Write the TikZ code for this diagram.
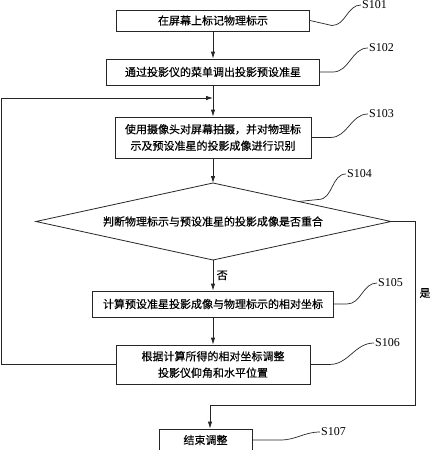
\documentclass[tikz,border=0pt]{standalone}
\usepackage{fontspec}
\setmainfont{Liberation Serif}
\newfontfamily\cjk{Noto Sans CJK SC}[FakeBold=0.5]
\usetikzlibrary{calc}
\usetikzlibrary{arrows.meta}

\begin{document}
\begin{tikzpicture}[x=1pt,y=-1pt,
  box/.style={draw=black!85,line width=0.8pt,inner sep=0pt,align=center,font=\cjk\fontsize{11}{16.5}\selectfont},
  txt/.style={font=\cjk\fontsize{11}{13}\selectfont},
  lbl/.style={inner sep=1pt,anchor=west,font=\fontsize{12}{12}\selectfont},
  line/.style={draw=black!85,line width=0.8pt},
  arr/.style={line,-{Latex[length=7pt,width=4.5pt]}},
  lead/.style={draw=black!85,line width=0.7pt}]
\useasboundingbox (0,0) rectangle (432,450);

% Steps
\node[box,minimum width=193pt,minimum height=21pt] (s101) at (213,20.5) {在屏幕上标记物理标示};
\node[box,minimum width=213pt,minimum height=26pt] (s102) at (213,72) {通过投影仪的菜单调出投影预设准星};
\node[box,minimum width=196pt,minimum height=41pt] (s103) at (213,137.5) {使用摄像头对屏幕拍摄，并对物理标\\示及预设准星的投影成像进行识别};

% Decision
\coordinate (dN) at (213,183);
\coordinate (dE) at (391,221.5);
\coordinate (dS) at (213,260);
\coordinate (dW) at (36,221.5);
\draw[line] (dN) -- (dE) -- (dS) -- (dW) -- cycle;
\node[txt] (s104) at (213,221.5) {判断物理标示与预设准星的投影成像是否重合};

\node[box,minimum width=241pt,minimum height=26pt] (s105) at (213,304) {计算预设准星投影成像与物理标示的相对坐标};
\node[box,minimum width=194pt,minimum height=39pt] (s106) at (213,364.5) {根据计算所得的相对坐标调整\\投影仪仰角和水平位置};
\node[box,minimum width=93pt,minimum height=22pt] (s107) at (205.5,440) {结束调整};

% Step labels
\node[lbl] (l101) at (361,5) {S101};
\node[lbl] (l102) at (368,48) {S102};
\node[lbl] (l103) at (368,114) {S103};
\node[lbl] (l104) at (346,174) {S104};
\node[lbl] (l105) at (377,283) {S105};
\node[lbl] (l106) at (374,343) {S106};
\node[lbl] (l107) at (320,432) {S107};

\draw[lead] (s101.east) -- ++(22,5) to[out=0,in=180] (l101.west);
\draw[lead] (s102.east) -- ++(13,0) to[out=0,in=180] (l102.west);
\draw[lead] (s103.east) -- ++(19,0) to[out=0,in=180] (l103.west);
\draw[lead] ($(dN)!0.48!(dE)$) -- ++(20,-2) to[out=0,in=180] (l104.west);
\draw[lead] (s105.east) -- ++(13,0) to[out=0,in=180] (l105.west);
\draw[lead] (s106.east) -- ++(19,0) to[out=0,in=180] (l106.west);
\draw[lead] (s107.east) -- ++(28,0) to[out=0,in=180] (l107.west);

% Flow
\coordinate (join) at (213,98);
\coordinate (loop) at (1.5,98);
\coordinate (yes) at (415,405);
\draw[arr] (s101) -- (s102);
\draw[arr] (s102) -- (s103);
\draw[arr] (s103) -- (dN);
\draw[arr] (dS) -- (s105) node[midway,right,txt] (no) {否};
\draw[arr] (s105) -- (s106);
\draw[arr] (s106.west) -| (loop) -- (join);
\draw[arr] (dE) -| (yes) -| ([xshift=4.5pt]s107.north);
\node[txt] (yesl) at (425,293) {是};
\end{tikzpicture}
\end{document}
